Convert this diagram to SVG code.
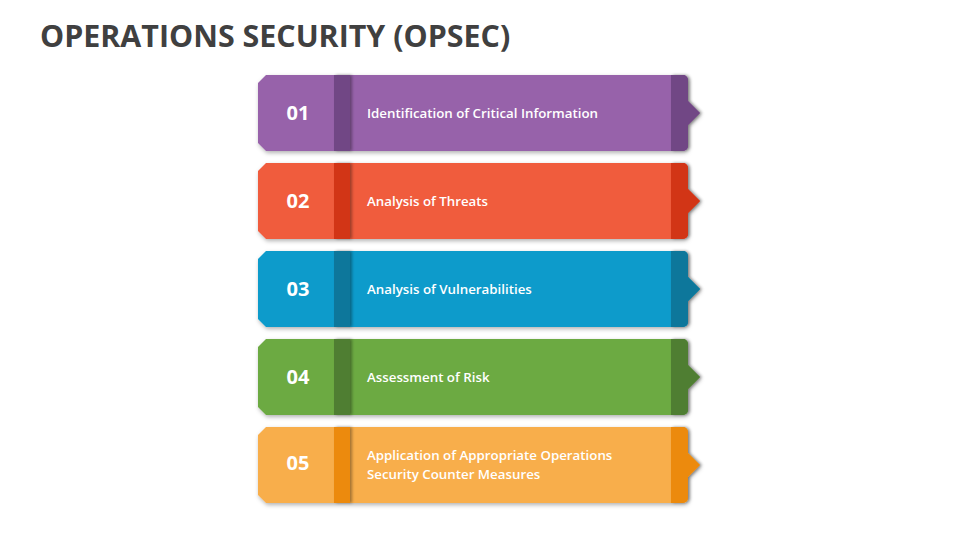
<svg xmlns="http://www.w3.org/2000/svg" width="960" height="540" viewBox="0 0 960 540">
<style>
.title{font-family:"Open Sans","Liberation Sans",sans-serif;font-weight:700;font-size:30.4px;fill:#404040}
.num{font-family:"Open Sans","Liberation Sans",sans-serif;font-weight:700;font-size:20px;fill:#fff;text-anchor:middle}
.lbl{font-family:"Open Sans","Liberation Sans",sans-serif;font-weight:600;font-size:13.3px;fill:#fff}
</style>
<defs>
<filter id="sh" x="-10%" y="-20%" width="120%" height="140%">
<feDropShadow dx="1" dy="2" stdDeviation="2" flood-color="#000" flood-opacity="0.3"/>
</filter>
<filter id="bs" x="-50%" y="-10%" width="200%" height="120%">
<feDropShadow dx="2" dy="0" stdDeviation="1.5" flood-color="#000" flood-opacity="0.35"/>
</filter>
</defs>
<text class="title" x="40" y="47">OPERATIONS SECURITY (OPSEC)</text>

<g id="node1" transform="translate(0,75)">
<path d="M266 0 H683 a5 5 0 0 1 5 5 V26 L700 38 L688 50 V71 a5 5 0 0 1 -5 5 H266 L258 68 V8 Z" fill="#9762AA" filter="url(#sh)"/>
<path d="M671 0 H683 a5 5 0 0 1 5 5 V26 L700 38 L688 50 V71 a5 5 0 0 1 -5 5 H671 Z" fill="#714685" filter="url(#bs)"/>
<rect x="334" y="0" width="16" height="76" fill="#714685" filter="url(#bs)"/>
<text class="num" x="298" y="45">01</text>
<text class="lbl" x="367" y="43">Identification of Critical Information</text>
</g>

<g id="node2" transform="translate(0,163)">
<path d="M266 0 H683 a5 5 0 0 1 5 5 V26 L700 38 L688 50 V71 a5 5 0 0 1 -5 5 H266 L258 68 V8 Z" fill="#F05B3C" filter="url(#sh)"/>
<path d="M671 0 H683 a5 5 0 0 1 5 5 V26 L700 38 L688 50 V71 a5 5 0 0 1 -5 5 H671 Z" fill="#D23417" filter="url(#bs)"/>
<rect x="334" y="0" width="16" height="76" fill="#D23417" filter="url(#bs)"/>
<text class="num" x="298" y="45">02</text>
<text class="lbl" x="367" y="43">Analysis of Threats</text>
</g>

<g id="node3" transform="translate(0,251)">
<path d="M266 0 H683 a5 5 0 0 1 5 5 V26 L700 38 L688 50 V71 a5 5 0 0 1 -5 5 H266 L258 68 V8 Z" fill="#0A9BCB" filter="url(#sh)"/>
<path d="M671 0 H683 a5 5 0 0 1 5 5 V26 L700 38 L688 50 V71 a5 5 0 0 1 -5 5 H671 Z" fill="#0C779B" filter="url(#bs)"/>
<rect x="334" y="0" width="16" height="76" fill="#0C779B" filter="url(#bs)"/>
<text class="num" x="298" y="45">03</text>
<text class="lbl" x="367" y="43">Analysis of Vulnerabilities</text>
</g>

<g id="node4" transform="translate(0,339)">
<path d="M266 0 H683 a5 5 0 0 1 5 5 V26 L700 38 L688 50 V71 a5 5 0 0 1 -5 5 H266 L258 68 V8 Z" fill="#6CAA43" filter="url(#sh)"/>
<path d="M671 0 H683 a5 5 0 0 1 5 5 V26 L700 38 L688 50 V71 a5 5 0 0 1 -5 5 H671 Z" fill="#4F7E32" filter="url(#bs)"/>
<rect x="334" y="0" width="16" height="76" fill="#4F7E32" filter="url(#bs)"/>
<text class="num" x="298" y="45">04</text>
<text class="lbl" x="367" y="43">Assessment of Risk</text>
</g>

<g id="node5" transform="translate(0,427)">
<path d="M266 0 H683 a5 5 0 0 1 5 5 V26 L700 38 L688 50 V71 a5 5 0 0 1 -5 5 H266 L258 68 V8 Z" fill="#F8AE4B" filter="url(#sh)"/>
<path d="M671 0 H683 a5 5 0 0 1 5 5 V26 L700 38 L688 50 V71 a5 5 0 0 1 -5 5 H671 Z" fill="#EC8A0E" filter="url(#bs)"/>
<rect x="334" y="0" width="16" height="76" fill="#EC8A0E" filter="url(#bs)"/>
<text class="num" x="298" y="43">05</text>
<text class="lbl" x="367" y="33">Application of Appropriate Operations</text>
<text class="lbl" x="367" y="52">Security Counter Measures</text>
</g>
<g id="connectors"/>
</svg>
